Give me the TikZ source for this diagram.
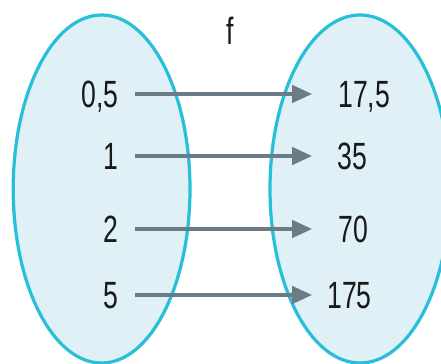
\documentclass[tikz,border=0pt]{standalone}
\usepackage{fontspec}
\setmainfont{Liberation Sans}
\usepackage{xcolor}
\usetikzlibrary{arrows.meta}
\definecolor{setfill}{HTML}{DFF1F6}
\definecolor{setline}{HTML}{29BFD9}
\definecolor{arrgray}{HTML}{6B7C86}
\newcommand{\narrow}[1]{\scalebox{0.7}[1]{#1}}

\begin{document}
\begin{tikzpicture}[>={Triangle[length=0.5cm,width=0.44cm]},
    val/.style={font=\fontsize{27}{30}\selectfont, text=black!90, inner sep=0pt,
      text height=0.68cm, text depth=0pt},
    maparrow/.style={->, arrgray, line width=2.2pt}]
  \useasboundingbox (0,0) rectangle (11.025,9.1);
  % the two sets
  \draw[setline, fill=setfill, line width=2.3pt] (2.54,4.375) ellipse (2.21 and 4.35);
  \draw[setline, fill=setfill, line width=2.3pt] (9.0,4.375) ellipse (2.25 and 4.35);
  \node[val, anchor=base] (f) at (5.75,7.975) {\narrow{f}};
  % domain
  \node[val, anchor=east] (x1) at (2.975,6.75)  {\narrow{0,5}};
  \node[val, anchor=east] (x2) at (2.975,5.2)   {\narrow{1}};
  \node[val, anchor=east] (x3) at (2.975,3.375) {\narrow{2}};
  \node[val, anchor=east] (x4) at (2.975,1.725) {\narrow{5}};
  % images
  \node[val, anchor=west] (y1) at (8.45,6.75)   {\narrow{17,5}};
  \node[val, anchor=west] (y2) at (8.425,5.2)   {\narrow{35}};
  \node[val, anchor=west] (y3) at (8.45,3.375)  {\narrow{70}};
  \node[val, anchor=west] (y4) at (8.175,1.725) {\narrow{175}};
  \draw[maparrow, shorten <=0.4cm, shorten >=0.65cm] (x1) -- (y1);
  \draw[maparrow, shorten <=0.4cm, shorten >=0.625cm] (x2) -- (y2);
  \draw[maparrow, shorten <=0.4cm, shorten >=0.65cm] (x3) -- (y3);
  \draw[maparrow, shorten <=0.4cm, shorten >=0.375cm] (x4) -- (y4);
\end{tikzpicture}
\end{document}
